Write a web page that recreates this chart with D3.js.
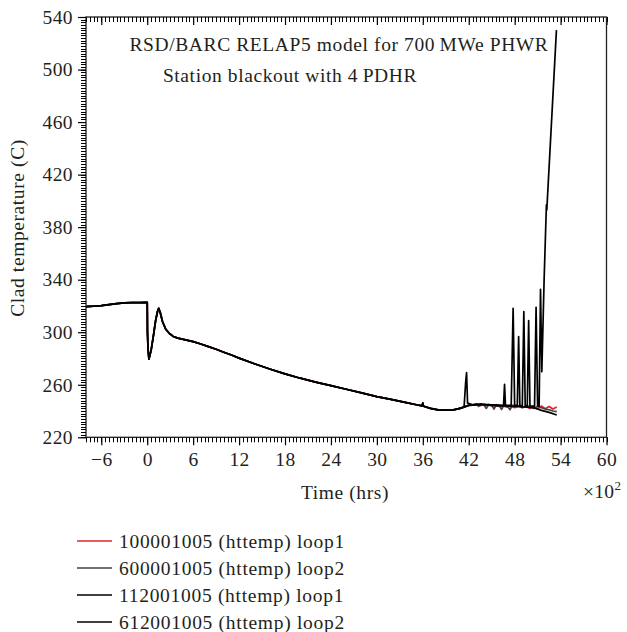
<!DOCTYPE html>
<html>
<head>
<meta charset="utf-8">
<script src="https://cdn.jsdelivr.net/npm/d3@7"></script>
<style>
  html, body { margin: 0; padding: 0; background: #fff; }
  svg { display: block; }
  text { font-family: "Liberation Serif", "DejaVu Serif", serif; fill: #231f20; }
</style>
</head>
<body>
<svg id="chart" width="627" height="632"></svg>
<script>
// ---------------- DATA ----------------
const xTicks = [-6, 0, 6, 12, 18, 24, 30, 36, 42, 48, 54, 60];
const yTicks = [220, 260, 300, 340, 380, 420, 460, 500, 540];

// common early transient (all four channels overlap)
const commonTime = [-8, -7, -6, -5, -4, -3, -2, -1, 0, 0.03, 0.1, 0.22, 0.5, 0.8, 1.1, 1.35, 1.5, 1.7, 2.0, 2.4, 2.9, 3.4, 4, 5, 6, 7, 8, 9, 10, 11, 12, 14, 16, 18, 20, 22, 24, 26, 28, 30, 32, 34, 35, 35.9, 36.0, 36.1, 37, 38, 39, 40, 41, 42];
const commonTemp = [319.5, 319.8, 320.3, 321, 321.8, 322.3, 322.5, 322.6, 322.7, 300, 288, 279.5, 286, 297, 309, 316, 318.2, 315, 308, 302.5, 299, 296.8, 295.5, 294.2, 292.8, 291, 289, 287, 284.8, 282.6, 280.3, 276, 272, 268.3, 265, 262, 259.3, 256.6, 253.8, 251, 248.7, 246.2, 245, 243.9, 246, 243.6, 242, 240.9, 240.7, 240.9, 242.2, 244.3];

// channel-specific late-time behaviour
const tail100Time = [42.5, 43, 43.5, 44, 44.5, 45, 45.5, 46, 46.5, 47, 47.5, 48, 48.5, 49, 49.5, 50, 50.5, 51, 51.5, 52, 52.5, 53, 53.5];
const tail100Temp = [244.5, 244.8, 244, 245, 244.6, 244, 244.5, 243.5, 243.8, 243, 244, 242.5, 243.5, 242.8, 243.6, 242, 243.5, 241.5, 243.8, 241.8, 243.5, 241.5, 243];

const tail600Time = [42.5, 43, 43.3, 43.6, 44, 44.3, 44.6, 45, 45.3, 45.6, 46, 46.3, 46.6, 47, 47.4, 47.7, 48.5, 49, 49.5, 50, 50.5, 51, 51.5, 52, 52.5, 53, 53.5];
const tail600Temp = [244.8, 245.2, 243.5, 245.5, 244.6, 242, 245, 244.4, 241.5, 244.8, 244.2, 241.2, 244.5, 244, 241, 244.3, 244, 242.5, 244, 243.5, 242, 243.5, 242.5, 241.5, 241, 240, 239.5];

const spike42Time = [41.4, 41.6, 41.72, 41.85];
const spike42Temp = [243.6, 262, 269.2, 246];
const tail112Time = [42.5, 43, 44, 45, 46, 46.55, 46.68, 46.8, 47.55, 47.8, 48.0, 48.35, 48.52, 48.68, 49.0, 49.2, 49.38, 49.65, 49.83, 50.0, 50.6, 50.8, 51.0, 51.2, 51.38, 51.55, 51.85, 52.15, 52.2, 53.46];
const tail112Temp = [244.7, 245.3, 245, 244.7, 244.5, 244.4, 260.3, 244.5, 244.3, 318.2, 244.3, 244.3, 296.6, 244.2, 244.2, 315.7, 244.1, 244, 308.8, 244, 243.8, 319, 243.8, 243.8, 332.7, 270, 340, 397, 393, 530];

const tail612Time = [42.5, 43.5, 44.5, 45.5, 46.5, 47.5, 48.5, 49.5, 50.5, 51.5, 52.5, 53.5];
const tail612Temp = [244.5, 245, 244.5, 244, 244, 243.5, 243.5, 243, 242.5, 240.5, 239, 237];

const seriesNames = ["100001005 (httemp) loop1", "600001005 (httemp) loop2", "112001005 (httemp) loop1", "612001005 (httemp) loop2"];
const seriesColors = ["#e3242b", "#404040", "#000000", "#000000"];

// ---------------- BUILD ----------------
function zipPts(ts, vs) { return ts.map((t, i) => ({ t: t, v: vs[i] })); }
const common = zipPts(commonTime, commonTemp);
const commonBefore42 = common.filter(d => d.t < 41.4);
const series = [
  { color: seriesColors[0], pts: common.concat(zipPts(tail100Time, tail100Temp)) },
  { color: seriesColors[1], pts: common.concat(zipPts(tail600Time, tail600Temp)) },
  { color: seriesColors[3], pts: common.concat(zipPts(tail612Time, tail612Temp)) },
  { color: seriesColors[2], pts: commonBefore42.concat(zipPts(spike42Time, spike42Temp), zipPts(tail112Time, tail112Temp)) }
];

const svg = d3.select("#chart");
const L = 86, R = 606.5, T = 17, B = 437.3;
const x = d3.scaleLinear().domain([-8, 60]).range([L, R]);
const y = d3.scaleLinear().domain([220, 540]).range([B, T]);

const minorX = d3.range(-8, 60.001, 0.5);
const minorY = d3.range(220, 540.001, 2);
const ink = "#231f20";
const FS = 19.5, LS = 0.6;

function styleAxis(g) {
  g.select(".domain").remove();
  g.selectAll(".tick line").attr("stroke", "#000").attr("stroke-width", 1.2);
  g.selectAll("text").attr("font-size", FS).attr("letter-spacing", 0.4).attr("fill", ink);
}

// major axes
const gxb = svg.append("g").attr("transform", `translate(0,${B})`)
  .call(d3.axisBottom(x).tickValues(xTicks).tickSize(8).tickPadding(4)
    .tickFormat(d => d < 0 ? "\u2212" + Math.abs(d) : String(d)));
const gxt = svg.append("g").attr("transform", `translate(0,${T})`)
  .call(d3.axisBottom(x).tickValues(xTicks).tickSize(8).tickFormat(""));
const gyl = svg.append("g").attr("transform", `translate(${L},0)`)
  .call(d3.axisLeft(y).tickValues(yTicks).tickSize(8).tickPadding(5));
[gxb, gxt, gyl].forEach(styleAxis);
gxb.selectAll("text").attr("dy", "0.85em");

// frame
svg.append("rect").attr("x", L).attr("y", T).attr("width", R - L).attr("height", B - T)
  .attr("fill", "none").attr("stroke", ink).attr("stroke-width", 1.3);

// lines
const line = d3.line().x(d => x(d.t)).y(d => y(d.v));
svg.append("g").selectAll("path").data(series).enter().append("path")
  .attr("d", d => line(d.pts)).attr("fill", "none")
  .attr("stroke", d => d.color).attr("stroke-width", 1.7).attr("stroke-linejoin", "round");

// minor ticks as one path, drawn on top
const mp = d3.path();
minorX.forEach(v => {
  const px = Math.round(x(v)) + 0.5;
  mp.moveTo(px, B); mp.lineTo(px, B + 5);
  mp.moveTo(px, T); mp.lineTo(px, T + 5);
});
minorY.forEach(v => {
  const py = Math.round(y(v)) + 0.5;
  mp.moveTo(L - 5, py); mp.lineTo(L, py);
});
svg.append("path").attr("d", mp.toString()).attr("fill", "none")
  .attr("stroke", "#000").attr("stroke-width", 1);

// annotations
svg.append("text").attr("x", 339).attr("y", 51).attr("text-anchor", "middle").attr("font-size", FS).attr("letter-spacing", LS)
  .text("RSD/BARC RELAP5 model for 700\u2009MWe PHWR");
svg.append("text").attr("x", 290).attr("y", 82).attr("text-anchor", "middle").attr("font-size", FS).attr("letter-spacing", LS)
  .text("Station blackout with 4\u2009PDHR");

// axis titles
svg.append("text").attr("x", 345).attr("y", 499).attr("text-anchor", "middle").attr("font-size", FS).attr("letter-spacing", LS)
  .text("Time (hrs)");
const ex = svg.append("text").attr("x", 583).attr("y", 498).attr("font-size", FS).attr("letter-spacing", 0.3);
ex.append("tspan").text("\u00d710");
ex.append("tspan").attr("dy", -8).attr("font-size", 13).text("2");
svg.append("text").attr("transform", "translate(24,228) rotate(-90)").attr("text-anchor", "middle")
  .attr("font-size", FS).attr("letter-spacing", LS).text("Clad temperature (C)");

// legend
const lg = svg.append("g");
const rowY = [541, 568, 595, 622];
[0, 1, 2, 3].forEach((k, i) => {
  lg.append("line").attr("x1", 77).attr("x2", 112).attr("y1", rowY[i]).attr("y2", rowY[i])
    .attr("stroke", seriesColors[k]).attr("stroke-width", 1.3);
  lg.append("text").attr("x", 119).attr("y", rowY[i] + 6.5).attr("font-size", FS).attr("letter-spacing", 0.7).text(seriesNames[k]);
});
</script>
</body>
</html>
